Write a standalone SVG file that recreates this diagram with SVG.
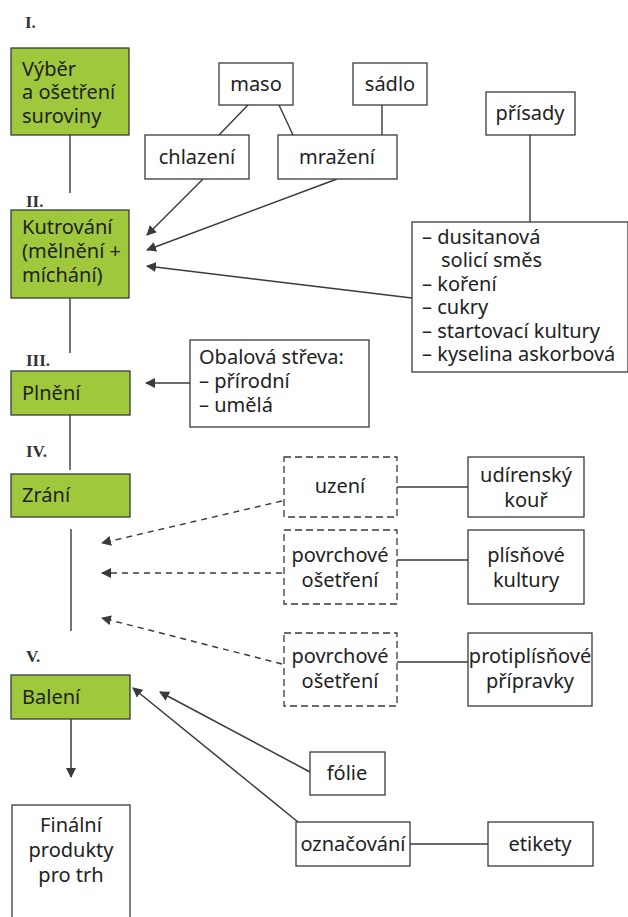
<svg xmlns="http://www.w3.org/2000/svg" width="628" height="917" viewBox="0 0 628 917">
<style>
.bg{fill:#ffffff}
.g{fill:#9fc83c;stroke:#3a3a3a;stroke-width:1.3}
.w{fill:#ffffff;stroke:#3a3a3a;stroke-width:1.3}
.d{fill:#ffffff;stroke:#3a3a3a;stroke-width:1.3;stroke-dasharray:7 4}
.t{font-family:"Noto Sans","DejaVu Sans",sans-serif;font-size:20px;fill:#222222}
.c{text-anchor:middle}
.r{font-family:"Liberation Serif",serif;font-weight:bold;font-size:17px;fill:#333}
.ln{stroke:#3a3a3a;stroke-width:1.4;fill:none}
.ar{stroke:#3a3a3a;stroke-width:1.5;fill:none;marker-end:url(#ah)}
.da{stroke:#3a3a3a;stroke-width:1.5;fill:none;stroke-dasharray:6 5;marker-end:url(#ah)}
</style>
<defs>
<marker id="ah" viewBox="0 0 10 10" refX="9" refY="5" markerWidth="10" markerHeight="10" markerUnits="userSpaceOnUse" orient="auto">
<path d="M0,0 L10,5 L0,10 z" fill="#3a3a3a"/>
</marker>
</defs>
<rect class="bg" x="0" y="0" width="628" height="917"/>

<g id="numerals">
<text class="r" x="25" y="28">I.</text>
<text class="r" x="26" y="207">II.</text>
<text class="r" x="26" y="366">III.</text>
<text class="r" x="26" y="457">IV.</text>
<text class="r" x="26" y="662">V.</text>
</g>

<g id="connectors">
<line class="ln" x1="70" y1="135" x2="70" y2="193"/>
<line class="ln" x1="70" y1="298" x2="70" y2="353"/>
<line class="ln" x1="70" y1="415" x2="70" y2="470"/>
<line class="ln" x1="71" y1="529" x2="71" y2="631"/>
<line class="ar" x1="71" y1="719" x2="71" y2="777"/>
<line class="ln" x1="248" y1="105" x2="219" y2="135"/>
<line class="ln" x1="279" y1="105" x2="293" y2="135"/>
<line class="ln" x1="382" y1="105" x2="382" y2="135"/>
<line class="ln" x1="530" y1="135" x2="530" y2="222"/>
<line class="ar" x1="203" y1="179" x2="147" y2="235"/>
<line class="ar" x1="337" y1="179" x2="147" y2="250"/>
<line class="ar" x1="412" y1="298" x2="147" y2="266"/>
<line class="ar" x1="190" y1="383" x2="146" y2="383"/>
<line class="da" x1="282" y1="501" x2="102" y2="543"/>
<line class="da" x1="282" y1="573" x2="102" y2="573"/>
<line class="da" x1="282" y1="664" x2="102" y2="618"/>
<line class="ln" x1="397" y1="487" x2="468" y2="487"/>
<line class="ln" x1="397" y1="560" x2="468" y2="560"/>
<line class="ln" x1="397" y1="662" x2="468" y2="662"/>
<line class="ar" x1="310" y1="772" x2="160" y2="692"/>
<line class="ar" x1="298" y1="822" x2="133" y2="688"/>
<line class="ln" x1="410" y1="844" x2="488" y2="844"/>
</g>

<g id="n-vyber">
<rect class="g" x="11" y="48" width="118" height="87"/>
<text class="t" x="22" y="76">Výběr</text>
<text class="t" x="22" y="99">a ošetření</text>
<text class="t" x="22" y="123">suroviny</text>
</g>
<g id="n-kutrovani">
<rect class="g" x="11" y="210" width="118" height="88"/>
<text class="t" x="22" y="234">Kutrování</text>
<text class="t" x="22" y="258">(mělnění +</text>
<text class="t" x="22" y="282">míchání)</text>
</g>
<g id="n-plneni">
<rect class="g" x="11" y="371" width="119" height="44"/>
<text class="t" x="22" y="400">Plnění</text>
</g>
<g id="n-zrani">
<rect class="g" x="11" y="474" width="119" height="43"/>
<text class="t" x="22" y="502">Zrání</text>
</g>
<g id="n-baleni">
<rect class="g" x="11" y="675" width="119" height="44"/>
<text class="t" x="22" y="704">Balení</text>
</g>
<g id="n-finalni">
<rect class="w" x="12" y="805" width="118" height="118"/>
<text class="t c" x="71" y="832">Finální</text>
<text class="t c" x="71" y="857">produkty</text>
<text class="t c" x="71" y="882">pro trh</text>
</g>

<g id="n-maso">
<rect class="w" x="219" y="63" width="74" height="42"/>
<text class="t c" x="256" y="91">maso</text>
</g>
<g id="n-sadlo">
<rect class="w" x="353" y="63" width="74" height="42"/>
<text class="t c" x="390" y="91">sádlo</text>
</g>
<g id="n-prisady">
<rect class="w" x="486" y="92" width="89" height="43"/>
<text class="t c" x="530" y="120">přísady</text>
</g>
<g id="n-chlazeni">
<rect class="w" x="145" y="135" width="104" height="44"/>
<text class="t c" x="197" y="164">chlazení</text>
</g>
<g id="n-mrazeni">
<rect class="w" x="278" y="135" width="119" height="44"/>
<text class="t c" x="337" y="164">mražení</text>
</g>
<g id="n-prisady-list">
<rect class="w" x="412" y="222" width="216" height="150"/>
<text class="t" x="422" y="244">– dusitanová</text>
<text class="t" x="441" y="267">solicí směs</text>
<text class="t" x="422" y="291">– koření</text>
<text class="t" x="422" y="314">– cukry</text>
<text class="t" x="422" y="338">– startovací kultury</text>
<text class="t" x="422" y="361">– kyselina askorbová</text>
</g>
<g id="n-obalova">
<rect class="w" x="190" y="340" width="179" height="87"/>
<text class="t" x="199" y="364">Obalová střeva:</text>
<text class="t" x="199" y="388">– přírodní</text>
<text class="t" x="199" y="412">– umělá</text>
</g>

<g id="n-uzeni">
<rect class="d" x="284" y="457" width="113" height="60"/>
<text class="t c" x="340" y="493">uzení</text>
</g>
<g id="n-udirensky">
<rect class="w" x="468" y="457" width="116" height="60"/>
<text class="t c" x="526" y="482">udírenský</text>
<text class="t c" x="526" y="507">kouř</text>
</g>
<g id="n-povrch1">
<rect class="d" x="284" y="530" width="113" height="74"/>
<text class="t c" x="340" y="562">povrchové</text>
<text class="t c" x="340" y="587">ošetření</text>
</g>
<g id="n-plisnove">
<rect class="w" x="468" y="530" width="116" height="74"/>
<text class="t c" x="526" y="562">plísňové</text>
<text class="t c" x="526" y="587">kultury</text>
</g>
<g id="n-povrch2">
<rect class="d" x="284" y="633" width="113" height="73"/>
<text class="t c" x="340" y="663">povrchové</text>
<text class="t c" x="340" y="688">ošetření</text>
</g>
<g id="n-protiplisnove">
<rect class="w" x="468" y="633" width="124" height="73"/>
<text class="t c" x="530" y="663">protiplísňové</text>
<text class="t c" x="530" y="688">přípravky</text>
</g>

<g id="n-folie">
<rect class="w" x="310" y="752" width="75" height="43"/>
<text class="t c" x="347" y="780">fólie</text>
</g>
<g id="n-oznacovani">
<rect class="w" x="296" y="822" width="114" height="44"/>
<text class="t c" x="353" y="851">označování</text>
</g>
<g id="n-etikety">
<rect class="w" x="488" y="822" width="105" height="44"/>
<text class="t c" x="540" y="851">etikety</text>
</g>
</svg>
